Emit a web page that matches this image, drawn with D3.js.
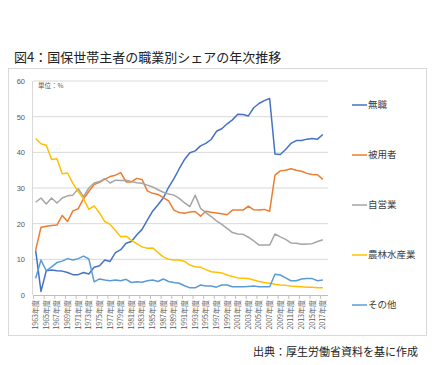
<!DOCTYPE html>
<html>
<head>
<meta charset="utf-8">
<script src="https://cdn.jsdelivr.net/npm/d3@7"></script>
<style>
  body { margin: 0; background: #fff; }
  svg { display: block; }
  text { font-family: "Noto Sans CJK JP", "Noto Sans", sans-serif; }
</style>
</head>
<body>
<div id="chart"></div>
<script>
const years = [1963, 1964, 1965, 1966, 1967, 1968, 1969, 1970, 1971, 1972,
               1973, 1974, 1975, 1976, 1977, 1978, 1979, 1980, 1981, 1982,
               1983, 1984, 1985, 1986, 1987, 1988, 1989, 1990, 1991, 1992,
               1993, 1994, 1995, 1996, 1997, 1998, 1999, 2000, 2001, 2002,
               2003, 2004, 2005, 2006, 2007, 2008, 2009, 2010, 2011, 2012,
               2013, 2014, 2015, 2016, 2017];

const mushoku = [12.5, 1.0, 6.8, 7.0, 6.8, 6.7, 6.3, 5.7, 5.7, 6.3,
                 5.9, 7.8, 8.2, 9.8, 9.4, 11.9, 12.7, 14.5, 15.0, 16.8,
                 18.4, 21.0, 23.5, 25.3, 27.2, 30.2, 32.6, 35.4, 38.0, 39.9,
                 40.4, 41.8, 42.5, 43.6, 45.9, 46.6, 48.0, 49.1, 50.7, 50.6,
                 50.2, 52.5, 53.7, 54.5, 55.1, 39.5, 39.4, 40.8, 42.5, 43.3,
                 43.3, 43.7, 43.9, 43.7, 45.0];

const hiyosha = [12.6, 19.0, 19.3, 19.5, 19.6, 22.3, 20.6, 23.6, 24.2, 27.0,
                 29.0, 31.0, 31.6, 32.5, 33.2, 33.6, 34.3, 31.7, 31.7, 32.7,
                 32.4, 29.2, 28.5, 28.2, 27.3, 26.4, 23.8, 23.1, 22.9, 23.3,
                 23.4, 22.1, 23.5, 23.2, 23.0, 22.8, 22.5, 23.8, 23.8, 23.8,
                 24.9, 23.9, 23.8, 24.0, 23.5, 33.6, 34.8, 35.0, 35.4, 35.0,
                 34.7, 34.1, 33.8, 33.7, 32.4];

const jieigyo = [26.0, 27.2, 25.5, 27.2, 25.8, 27.2, 27.8, 28.0, 29.8, 27.6,
                 30.0, 31.4, 31.8, 32.6, 31.4, 32.2, 32.1, 32.2, 31.8, 31.5,
                 31.3, 30.8, 30.3, 29.5, 28.8, 28.3, 28.0, 27.1, 25.8, 24.8,
                 28.0, 24.3, 23.1, 22.0, 20.8, 19.8, 18.7, 17.5, 17.1, 17.0,
                 16.2, 15.2, 14.0, 14.0, 14.0, 17.1, 16.3, 15.6, 14.6, 14.5,
                 14.2, 14.3, 14.4, 15.0, 15.5];

const nourin = [43.9, 42.4, 42.0, 38.0, 38.2, 34.0, 34.2, 31.3, 29.0, 27.0,
                24.0, 25.0, 23.0, 20.6, 19.8, 18.1, 16.3, 16.5, 15.3, 14.4,
                13.5, 13.1, 13.2, 11.9, 10.7, 10.0, 9.8, 9.8, 9.4, 8.4,
                7.9, 7.8, 7.1, 6.5, 6.4, 6.2, 5.6, 5.2, 4.8, 4.7,
                4.6, 4.2, 3.8, 3.5, 3.3, 3.0, 2.8, 2.7, 2.5, 2.4,
                2.3, 2.2, 2.2, 2.0, 2.0];

const sonota = [4.7, 9.8, 6.8, 7.9, 9.1, 9.5, 10.2, 9.8, 10.2, 10.9,
                10.1, 3.7, 4.5, 4.2, 4.0, 4.2, 4.0, 4.4, 3.5, 3.7,
                3.6, 4.0, 4.2, 3.8, 4.5, 3.8, 3.5, 3.3, 2.6, 2.0,
                2.0, 2.8, 2.5, 2.5, 2.2, 2.8, 2.8, 2.3, 2.3, 2.3,
                2.4, 2.5, 2.3, 2.3, 2.3, 5.8, 5.6, 4.8, 4.0, 4.0,
                4.5, 4.6, 4.6, 4.0, 4.2];

const seriesNames = ["無職", "被用者", "自営業", "農林水産業", "その他"];
const seriesValues = [mushoku, hiyosha, jieigyo, nourin, sonota];
const seriesColors = ["#4472C4", "#ED7D31", "#A5A5A5", "#FFC000", "#5B9BD5"];
const yTicks = [0, 10, 20, 30, 40, 50, 60];
const xTickYears = years.filter((d, i) => i % 2 === 0);

const w = 437;
const h = 365;

const svg = d3.select("#chart")
              .append("svg")
              .attr("width", w)
              .attr("height", h);

// outer frame of the chart
svg.append("rect")
   .attr("x", 8.5)
   .attr("y", 68.5)
   .attr("width", 418)
   .attr("height", 267)
   .attr("fill", "none")
   .attr("stroke", "#d9d9d9");

svg.append("text")
   .attr("x", 14)
   .attr("y", 62)
   .attr("font-size", "13px")
   .attr("fill", "#222")
   .text("図4：国保世帯主者の職業別シェアの年次推移");

const xScale = d3.scaleBand().domain(years).range([33, 325.5]);
const yScale = d3.scaleLinear().domain([0, 60]).range([295, 81]);
const cx = d => xScale(d) + xScale.bandwidth() / 2;

// gridlines
svg.append("g")
   .selectAll("line")
   .data(yTicks.filter(d => d > 0))
   .enter()
   .append("line")
   .attr("x1", 33)
   .attr("x2", 328)
   .attr("y1", d => yScale(d))
   .attr("y2", d => yScale(d))
   .attr("stroke", "#d9d9d9")
   .attr("stroke-width", 1);

svg.append("line")
   .attr("x1", 32.5).attr("x2", 32.5)
   .attr("y1", yScale(60)).attr("y2", yScale(0))
   .attr("stroke", "#d9d9d9");

// y axis labels
const yAxis = d3.axisLeft(yScale).tickValues(yTicks).tickSize(0).tickPadding(8);
const gy = svg.append("g")
   .attr("transform", "translate(33, 0)")
   .call(yAxis);
gy.select(".domain").remove();
gy.selectAll("text")
  .attr("font-size", "7.5px")
  .attr("fill", "#595959")
  .style("font-family", "Liberation Sans, Arial, sans-serif");

// x axis
const xAxis = d3.axisBottom(xScale)
                .tickValues(xTickYears)
                .tickFormat(d => d + "年度")
                .tickSize(0);
const gx = svg.append("g")
   .attr("transform", `translate(0, ${yScale(0)})`)
   .call(xAxis);
gx.select(".domain").remove();
gx.selectAll("text")
  .attr("transform", "rotate(-90)")
  .attr("text-anchor", "end")
  .attr("x", -5)
  .attr("y", 0)
  .attr("dy", "0.35em")
  .attr("font-size", "7px")
  .attr("fill", "#595959");

svg.append("line")
   .attr("x1", 33).attr("x2", 328)
   .attr("y1", yScale(0) + 0.5).attr("y2", yScale(0) + 0.5)
   .attr("stroke", "#bfbfbf");

svg.append("g")
   .selectAll("line")
   .data(xTickYears)
   .enter()
   .append("line")
   .attr("x1", d => xScale(d) + 0.5)
   .attr("x2", d => xScale(d) + 0.5)
   .attr("y1", yScale(0))
   .attr("y2", yScale(0) + 4)
   .attr("stroke", "#bfbfbf");

svg.append("text")
   .attr("x", 38)
   .attr("y", 88)
   .attr("font-size", "6.5px")
   .attr("fill", "#595959")
   .text("単位：%");

// series lines
const line = d3.line()
               .x((d, i) => cx(years[i]))
               .y(d => yScale(d));

svg.append("g")
   .selectAll("path")
   .data(seriesValues)
   .enter()
   .append("path")
   .attr("d", d => line(d))
   .attr("fill", "none")
   .attr("stroke", (d, i) => seriesColors[i])
   .attr("stroke-width", 1.5)
   .attr("stroke-linejoin", "round");

// legend
const legend = svg.append("g")
   .selectAll("g")
   .data(seriesNames)
   .enter()
   .append("g")
   .attr("transform", (d, i) => `translate(352, ${105 + i * 50})`);
legend.append("line")
      .attr("x1", 0).attr("x2", 15)
      .attr("stroke", (d, i) => seriesColors[i])
      .attr("stroke-width", 1.5);
legend.append("text")
      .attr("x", 16)
      .attr("dy", "0.35em")
      .attr("font-size", "9.5px")
      .attr("fill", "#404040")
      .text(d => d);

svg.append("text")
   .attr("x", 418)
   .attr("y", 356)
   .attr("text-anchor", "end")
   .attr("font-size", "11px")
   .attr("fill", "#222")
   .text("出典：厚生労働省資料を基に作成");
</script>
</body>
</html>
